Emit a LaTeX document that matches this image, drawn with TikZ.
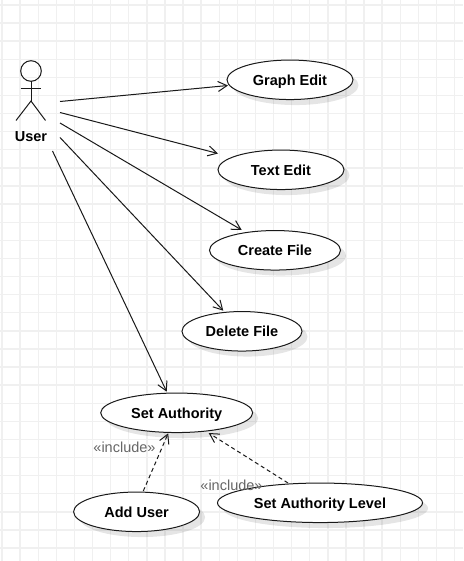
\documentclass[tikz,border=0pt]{standalone}
\usepackage{fontspec}
\setmainfont{Liberation Sans}
\usetikzlibrary{arrows.meta,shapes.geometric,shadows}
\definecolor{gridc}{RGB}{240,240,240}
\definecolor{inkc}{RGB}{25,25,25}
\tikzset{
  x=1pt,y=-1pt,
  usecase/.style={ellipse,draw=inkc,line width=1pt,fill=white,inner sep=0pt,minimum height=39.5pt,font=\bfseries\fontsize{14.5}{16}\selectfont,text=black,text height=11pt,text depth=0pt,
    drop shadow={shadow xshift=5.5pt,shadow yshift=-5.5pt,fill=black,opacity=0.1}},
  assoc/.style={draw=inkc,line width=1pt,-{Straight Barb[length=9pt,width=10pt,line width=1pt]}},
  incl/.style={assoc,dash pattern=on 4pt off 3pt},
  gridline/.style={gridc,line width=1.4pt},
  actorline/.style={draw=inkc,line width=1pt},
  stereo/.style={font=\fontsize{14.5}{16}\selectfont,text=black!60,inner sep=0pt}
}
\begin{document}
\begin{tikzpicture}
\useasboundingbox (0,0) rectangle (463,561);
\fill[white] (0,0) rectangle (463,561);
\foreach \i in {0,...,25} \draw[gridline] ({2+18.1*\i},0) -- ({2+18.1*\i},561);
\foreach \i in {0,...,30} \draw[gridline] (0,{5+18.1*\i}) -- (463,{5+18.1*\i});

\node[usecase,minimum width=126pt] (graph) at (290,79.8) {Graph Edit};
\node[usecase,minimum width=126pt] (text) at (281,169.8) {Text Edit};
\node[usecase,minimum width=131pt] (create) at (275,250.3) {Create File};
\node[usecase,minimum width=120pt] (delete) at (242,331.3) {Delete File};
\node[usecase,minimum width=152pt] (auth) at (176.7,412.8) {Set Authority};
\node[usecase,minimum width=126pt] (add) at (136.6,511.8) {Add User};
\node[usecase,minimum width=205pt] (level) at (320,502.8) {Set Authority Level};

% actor
\draw[actorline] (31,71) circle (10.3);
\draw[actorline] (31,81.3) -- (31,101) coordinate (hip);
\draw[actorline] (20.5,88.5) -- (41,88.5);
\draw[actorline] (16,120.5) -- (hip) -- (45.5,120.5);
\node[inner sep=0pt,font=\bfseries\fontsize{14.5}{16}\selectfont] (user) at (31,136.5) {User};

\coordinate (s1) at (60,101.5);
\coordinate (s2) at (60,112.5);
\coordinate (s3) at (60,123);
\coordinate (s4) at (60,137.5);
\coordinate (s5) at (52.5,151);

\draw[assoc] (s1) -- ([shift={(-62,5.7)}]graph.center);
\draw[assoc] (s2) -- ([shift={(-63,-16.3)}]text.center);
\draw[assoc] (s3) -- ([shift={(-33.3,-20.3)}]create.center);
\draw[assoc] (s4) -- ([shift={(-18.7,-20.6)}]delete.center);
\draw[assoc] (s5) -- ([shift={(-10,-21.1)}]auth.center);
\draw[incl] ([shift={(6.7,-20.8)}]add.center) -- ([shift={(-8.5,20.5)}]auth.center);
\draw[incl] ([shift={(-32,-19.8)}]level.center) -- ([shift={(32,20.2)}]auth.center);

\node[stereo] (inc1) at (124.5,447) {«include»};
\node[stereo] (inc2) at (231.5,485) {«include»};
\end{tikzpicture}
\end{document}
